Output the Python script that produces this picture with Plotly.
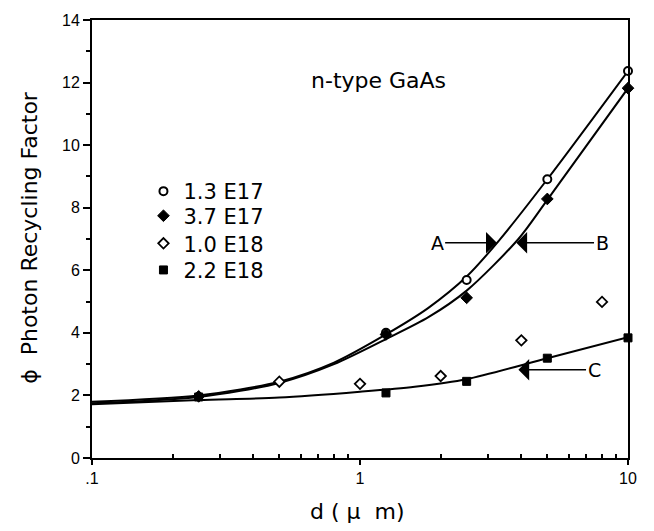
import numpy as np
import plotly.graph_objects as go

# Measured photon recycling factor vs. layer thickness, n-type GaAs
d_13e17 = [1.25, 2.5, 5, 10]
phi_13e17 = [4.0, 5.69, 8.91, 12.37]

d_37e17 = [0.25, 1.25, 2.5, 5, 10]
phi_37e17 = [1.97, 3.95, 5.12, 8.28, 11.82]

d_10e18 = [0.5, 1, 2, 4, 8]
phi_10e18 = [2.44, 2.37, 2.62, 3.76, 4.99]

d_22e18 = [0.25, 1.25, 2.5, 5, 10]
phi_22e18 = [1.95, 2.08, 2.45, 3.19, 3.84]

# Calculated curves A, B, C
curve_A_d = [0.1, 0.25, 0.5, 0.8, 1.25, 1.8, 2.5, 3.3, 5, 10]
curve_A = [1.80, 2.00, 2.44, 3.05, 3.95, 4.80, 5.80, 6.95, 8.91, 12.37]
curve_B_d = [0.1, 0.25, 0.5, 0.8, 1.25, 1.8, 2.5, 3.9, 5, 10]
curve_B = [1.75, 1.95, 2.40, 3.00, 3.80, 4.50, 5.35, 7.00, 8.25, 11.82]
curve_C_d = [0.1, 0.25, 0.5, 1, 1.6, 2.5, 5, 10]
curve_C = [1.72, 1.85, 1.93, 2.12, 2.28, 2.52, 3.19, 3.86]

legend_labels = ["1.3 E17", "3.7 E17", "1.0 E18", "2.2 E18"]
legend_rows = [0.6085, 0.5523, 0.4893, 0.4286]

# Curve label arrows: (label, tip d, tip phi, label d)
arrow_labels = [("A", 3.24, 6.88, 1.94), ("B", 3.83, 6.88, 8.0),
                ("C", 3.9, 2.82, 7.47)]

FONT = "DejaVu Sans, sans-serif"
TICK_FONT = "Liberation Sans, Arial, sans-serif"

fig = go.Figure()

for xs, ys in [(curve_A_d, curve_A), (curve_B_d, curve_B),
               (curve_C_d, curve_C)]:
    fig.add_trace(go.Scatter(
        x=xs, y=ys, mode="lines", showlegend=False, hoverinfo="skip",
        line=dict(color="black", width=2, shape="spline", smoothing=0.8),
    ))

series = [
    (d_13e17, phi_13e17, dict(symbol="circle", size=8, color="white",
                              line=dict(color="black", width=2))),
    (d_37e17, phi_37e17, dict(symbol="diamond", size=9, color="black",
                              line=dict(color="black", width=1))),
    (d_10e18, phi_10e18, dict(symbol="diamond", size=8, color="white",
                              line=dict(color="black", width=1.8))),
    (d_22e18, phi_22e18, dict(symbol="square", size=8, color="black",
                              line=dict(color="black", width=1))),
]
legend_layout = {}
for i, ((xs, ys, mk), name, row_y) in enumerate(
        zip(series, legend_labels, legend_rows)):
    key = "legend" if i == 0 else f"legend{i + 1}"
    fig.add_trace(go.Scatter(x=xs, y=ys, mode="markers", name=name,
                             marker=mk, cliponaxis=False, legend=key))
    legend_layout[key] = dict(
        x=0.096, y=row_y, xanchor="left", yanchor="middle",
        bgcolor="rgba(0,0,0,0)", font=dict(family=FONT, size=21))

annotations = []
for label, tip_d, tip_y, lab_d in arrow_labels:
    annotations.append(dict(
        x=np.log10(tip_d), y=tip_y, xref="x", yref="y",
        ax=np.log10(lab_d), ay=tip_y, axref="x", ayref="y",
        text=label, showarrow=True, arrowhead=1, arrowsize=2.4,
        arrowwidth=1.5, arrowcolor="black",
        font=dict(family=FONT, size=19, color="black"),
    ))

annotations += [
    dict(text="n-type GaAs", x=0.534, y=0.863, xref="paper", yref="paper",
         xanchor="center", yanchor="middle", showarrow=False,
         font=dict(family=FONT, size=22, color="black")),
    dict(text="ϕ\u00a0\u00a0Photon Recycling Factor", x=-0.1157, y=0.505,
         xref="paper", yref="paper", textangle=-90, showarrow=False,
         xanchor="center", yanchor="middle",
         font=dict(family=FONT, size=22, color="black")),
    dict(text="d ( µ\u00a0\u00a0m)", x=0.4954, y=-0.1226,
         xref="paper", yref="paper",
         showarrow=False, xanchor="center", yanchor="middle",
         font=dict(family=FONT, size=22, color="black")),
]

fig.update_layout(
    width=654, height=531,
    margin=dict(l=92, r=26, t=14, b=73),
    paper_bgcolor="white", plot_bgcolor="white",
    font=dict(family=TICK_FONT, size=16, color="black"),
    annotations=annotations,
    **legend_layout,
)

fig.update_xaxes(
    type="log", range=[-1, 1],
    tickvals=[0.1, 1, 10], ticktext=[".1", "1", "10"],
    ticks="outside", ticklen=5, tickwidth=2, tickcolor="black",
    showline=True, linecolor="black", linewidth=2, mirror=True,
    showgrid=False, zeroline=False,
    minor=dict(ticks="inside", ticklen=4, tickwidth=2, tickcolor="black",
               showgrid=False,
               tickvals=[0.2, 0.3, 0.4, 0.5, 0.6, 0.7, 0.8, 0.9,
                         2, 3, 4, 5, 6, 7, 8, 9]),
)
fig.update_yaxes(
    range=[0, 14], tickvals=list(range(0, 15, 2)),
    ticks="outside", ticklen=7, tickwidth=2, tickcolor="black",
    showline=True, linecolor="black", linewidth=2, mirror=True,
    showgrid=False, zeroline=False,
    minor=dict(ticks="outside", ticklen=4, tickwidth=2, tickcolor="black",
               showgrid=False, tickvals=list(range(1, 14, 2))),
)

fig.write_html("out.html")
